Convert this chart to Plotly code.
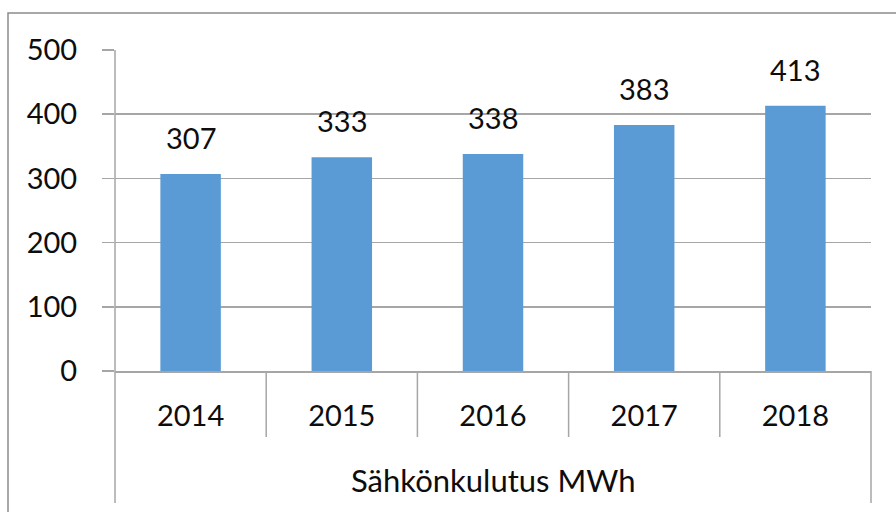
import plotly.graph_objects as go

years = ["2014", "2015", "2016", "2017", "2018"]
consumption = [307, 333, 338, 383, 413]
y_ticks = [0, 100, 200, 300, 400, 500]
group_label = "Sähkönkulutus MWh"

W, H = 896, 512
L, R, T, B = 115, 25, 50, 141
pw, ph = W - L - R, H - T - B

def px_to_paper_x(px):
    return (px - L) / pw

def px_to_paper_y(py):
    return (H - B - py) / ph

FONT = "Lato, 'Liberation Sans', sans-serif"
GRID = "#a6a6a6"
TXT = "#0d0d0d"
FS = 29

fig = go.Figure()
fig.add_trace(go.Bar(
    x=years, y=consumption,
    marker=dict(color="#5b9bd5", line=dict(width=0)),
    width=0.4, hoverinfo="skip",
))

annotations = []
for i, v in enumerate(consumption):
    annotations.append(dict(
        x=i, y=v, xref="x", yref="y", text=str(v), showarrow=False,
        yanchor="bottom", yshift=17, font=dict(family=FONT, size=FS, color=TXT),
    ))
annotations.append(dict(
    x=0.5, y=px_to_paper_y(480), xref="paper", yref="paper", text=group_label,
    showarrow=False, xanchor="center", yanchor="middle",
    font=dict(family=FONT, size=31, color=TXT),
))

shapes = []
# outer chart border
shapes.append(dict(type="rect", xref="paper", yref="paper",
                   x0=px_to_paper_x(8), x1=px_to_paper_x(905),
                   y0=px_to_paper_y(13), y1=px_to_paper_y(525),
                   line=dict(color="#8c8c8c", width=1.5), layer="below"))
# category separators below axis
n = len(years)
for i in range(n + 1):
    outer = i == 0 or i == n
    shapes.append(dict(type="line", xref="paper", yref="paper",
                       x0=i / n, x1=i / n, y0=0,
                       y1=px_to_paper_y(503 if outer else 437),
                       line=dict(color=GRID, width=1.5)))
# left axis line
shapes.append(dict(type="line", xref="paper", yref="paper",
                   x0=0, x1=0, y0=0, y1=1, line=dict(color=GRID, width=1.5)))

fig.update_layout(
    width=W, height=H,
    margin=dict(l=L, r=R, t=T, b=B),
    paper_bgcolor="white", plot_bgcolor="white",
    showlegend=False,
    font=dict(family=FONT, size=FS, color=TXT),
    annotations=annotations,
    shapes=shapes,
    xaxis=dict(
        type="category", range=[-0.5, 4.5],
        showgrid=False, showline=True, linecolor=GRID, linewidth=1.5,
        ticks="", ticklabelstandoff=19,
        tickfont=dict(family=FONT, size=FS, color=TXT),
        fixedrange=True,
    ),
    yaxis=dict(
        range=[0, 500], tickvals=y_ticks,
        showgrid=True, gridcolor=GRID, gridwidth=1.5,
        zeroline=False, showline=False,
        ticks="outside", ticklen=12, tickcolor=GRID, tickwidth=1.5,
        ticklabelstandoff=19,
        tickfont=dict(family=FONT, size=FS, color=TXT),
        fixedrange=True,
    ),
)

fig.write_html("out.html", config={"displayModeBar": False, "staticPlot": True},
               post_script="document.body.style.margin='0';document.body.style.overflow='hidden';")
